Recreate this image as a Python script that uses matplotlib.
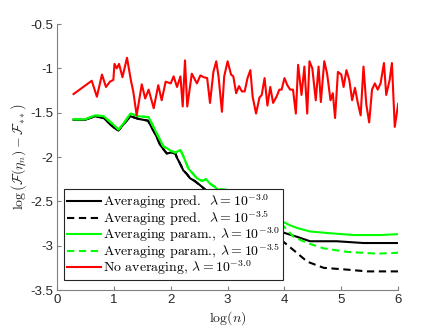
import matplotlib
matplotlib.use("Agg")
import matplotlib.pyplot as plt

plt.rcParams['mathtext.fontset'] = 'cm'
plt.rcParams['font.family'] = ['Liberation Sans', 'DejaVu Sans']

# ---- data ----
avg_pred_30_x = [0.29, 0.49, 0.67, 0.82, 1.0, 1.08, 1.17, 1.29, 1.43, 1.6, 1.75, 1.81, 1.88, 1.93, 2.0, 2.08,
                 2.11, 2.16, 2.22, 2.28, 2.34, 2.42, 2.52, 2.61, 2.8, 3.0, 3.3, 3.6, 3.97, 4.22, 4.45, 4.92, 5.39, 6.0]
avg_pred_30_y = [-1.58, -1.58, -1.54, -1.56, -1.67, -1.70, -1.63, -1.54, -1.57, -1.59, -1.77, -1.86, -1.92, -1.96, -1.95, -1.96,
                 -2.01, -2.07, -2.15, -2.19, -2.24, -2.27, -2.32, -2.37, -2.45, -2.55, -2.68, -2.78, -2.85, -2.90, -2.95, -2.95, -2.97, -2.97]

avg_pred_35_x = [0.29, 0.49, 0.67, 0.82, 1.0, 1.08, 1.17, 1.29, 1.43, 1.6, 1.75, 1.81, 1.88, 1.93, 2.0, 2.08,
                 2.11, 2.16, 2.22, 2.28, 2.34, 2.42, 2.52, 2.61, 2.8, 3.0, 3.3, 3.6, 3.97, 4.16, 4.40, 4.69, 5.10, 5.45, 6.0]
avg_pred_35_y = [-1.58, -1.58, -1.54, -1.56, -1.67, -1.70, -1.63, -1.54, -1.57, -1.59, -1.77, -1.86, -1.92, -1.96, -1.95, -1.96,
                 -2.01, -2.07, -2.15, -2.19, -2.24, -2.27, -2.32, -2.37, -2.45, -2.55, -2.70, -2.83, -2.95, -3.05, -3.18, -3.25, -3.27, -3.29, -3.29]

avg_param_30_x = [0.29, 0.49, 0.67, 0.82, 1.0, 1.08, 1.17, 1.29, 1.43, 1.61, 1.75, 1.87, 1.93, 2.0, 2.08, 2.17,
                  2.22, 2.31, 2.46, 2.55, 2.62, 2.69, 2.84, 3.0, 3.3, 3.6, 3.97, 4.10, 4.22, 4.45, 4.81, 5.22, 5.69, 6.0]
avg_param_30_y = [-1.575, -1.575, -1.53, -1.54, -1.64, -1.69, -1.62, -1.51, -1.54, -1.55, -1.73, -1.88, -1.90, -1.93, -1.95, -1.92,
                  -1.99, -2.13, -2.24, -2.27, -2.25, -2.30, -2.37, -2.45, -2.56, -2.65, -2.73, -2.77, -2.80, -2.84, -2.86, -2.88, -2.88, -2.87]

avg_param_35_x = [0.29, 0.49, 0.67, 0.82, 1.0, 1.08, 1.17, 1.29, 1.43, 1.61, 1.75, 1.87, 1.93, 2.0, 2.08, 2.17,
                  2.22, 2.31, 2.46, 2.55, 2.62, 2.69, 2.84, 3.02, 3.1, 3.3, 3.6, 3.97, 4.16, 4.40, 4.69, 5.10, 5.63, 6.0]
avg_param_35_y = [-1.575, -1.575, -1.53, -1.54, -1.64, -1.69, -1.62, -1.51, -1.54, -1.55, -1.73, -1.88, -1.90, -1.93, -1.95, -1.92,
                  -1.99, -2.13, -2.24, -2.27, -2.25, -2.30, -2.36, -2.37, -2.42, -2.50, -2.62, -2.77, -2.90, -2.97, -3.03, -3.07, -3.09, -3.08]

no_avg_x = [0.29, 0.61, 0.70, 0.79, 0.86, 0.93, 0.99, 1.01, 1.05, 1.09,
            1.15, 1.23, 1.30, 1.34, 1.40, 1.49, 1.55, 1.61, 1.70, 1.78,
            1.84, 1.91, 2.0, 2.05, 2.11, 2.17, 2.21, 2.25, 2.29, 2.37,
            2.46, 2.52, 2.58, 2.64, 2.69, 2.75, 2.80, 2.84, 2.90, 2.94,
            3.0, 3.06, 3.10, 3.15, 3.20, 3.25, 3.30, 3.35, 3.40, 3.44,
            3.50, 3.56, 3.60, 3.65, 3.70, 3.75, 3.80, 3.86, 3.91, 3.95,
            4.0, 4.05, 4.10, 4.15, 4.20, 4.24, 4.30, 4.35, 4.40, 4.44,
            4.49, 4.55, 4.60, 4.64, 4.70, 4.75, 4.81, 4.85, 4.89, 4.94,
            5.0, 5.04, 5.09, 5.14, 5.19, 5.24, 5.29, 5.34, 5.39, 5.44,
            5.49, 5.54, 5.59, 5.64, 5.69, 5.75, 5.79, 5.85, 5.89, 5.94,
            6.0]
no_avg_y = [-1.29, -1.14, -1.32, -1.07, -1.21, -1.15, -1.13, -0.95, -1.0, -0.95,
            -1.10, -0.88, -1.14, -1.26, -1.53, -1.18, -1.34, -1.24, -1.45, -1.19,
            -1.36, -1.15, -1.17, -1.09, -1.21, -1.09, -1.43, -0.91, -1.43, -1.06,
            -1.17, -1.08, -1.10, -1.11, -1.39, -1.04, -0.92, -1.09, -1.49, -1.09,
            -0.92, -1.07, -1.09, -1.28, -1.20, -1.26, -1.26, -1.11, -1.02, -1.32,
            -1.51, -1.33, -1.30, -1.11, -1.42, -1.21, -1.39, -1.32, -1.24, -1.24,
            -1.11, -1.19, -1.24, -1.24, -1.51, -0.96, -1.30, -0.98, -1.51, -0.92,
            -1.0, -1.36, -0.98, -1.38, -0.92, -1.06, -1.36, -1.28, -1.56, -1.04,
            -1.07, -1.21, -1.02, -1.13, -1.36, -1.22, -1.39, -1.53, -0.98, -1.41,
            -1.61, -1.24, -1.17, -1.24, -1.17, -0.94, -1.30, -1.13, -0.94, -1.66,
            -1.40]

labels = [r'Averaging pred.  $\lambda = 10^{-3.0}$',
          r'Averaging pred.  $\lambda = 10^{-3.5}$',
          r'Averaging param., $\lambda = 10^{-3.0}$',
          r'Averaging param., $\lambda = 10^{-3.5}$',
          r'No averaging, $\lambda = 10^{-3.0}$']

xticks = [0, 1, 2, 3, 4, 5, 6]
yticks = [-3.5, -3, -2.5, -2, -1.5, -1, -0.5]
ytick_labels = ['-3.5', '-3', '-2.5', '-2', '-1.5', '-1', '-0.5']

# ---- plot ----
fig = plt.figure(figsize=(4.39, 3.29), dpi=100)
ax = fig.add_axes([0.130, 0.1185, 0.777, 0.8085])

lw = 1.5
dash = (3.5, 2.2)
ax.plot(avg_pred_30_x, avg_pred_30_y, color='black', lw=lw, label=labels[0])
ax.plot(avg_pred_35_x, avg_pred_35_y, color='black', lw=lw, ls=(0, dash), label=labels[1])
ax.plot(avg_param_30_x, avg_param_30_y, color='#00FF00', lw=lw, label=labels[2])
ax.plot(avg_param_35_x, avg_param_35_y, color='#00FF00', lw=lw, ls=(0, dash), label=labels[3])
ax.plot(no_avg_x, no_avg_y, color='#FF0000', lw=lw, label=labels[4])

ax.set_xlim(0, 6)
ax.set_ylim(-3.5, -0.5)
ax.set_xticks(xticks)
ax.set_xticklabels([str(t) for t in xticks])
ax.set_yticks(yticks)
ax.set_yticklabels(ytick_labels)

for s in ['top', 'right']:
    ax.spines[s].set_visible(False)
for s in ['left', 'bottom']:
    ax.spines[s].set_color('#808080')
    ax.spines[s].set_linewidth(0.8)
ax.tick_params(direction='in', length=3, width=0.8, color='#808080',
               labelsize=9.5, labelcolor='#262626', pad=3)

ax.set_xlabel(r'$\log(n)$', fontsize=10, color='#262626', labelpad=2)
ax.set_ylabel(r'$\log\left(\mathcal{F}(\eta_n) - \mathcal{F}_{**}\right)$',
              fontsize=10, color='#262626', labelpad=1)

leg = ax.legend(loc='lower left', bbox_to_anchor=(0.02, 0.037), borderaxespad=0,
                prop={'family': 'cmr10', 'size': 10}, frameon=True, fancybox=False,
                framealpha=1, edgecolor='#262626', handlelength=2.4, handletextpad=0.15,
                labelspacing=-0.18, borderpad=0.25)
leg.get_frame().set_linewidth(0.8)

fig.savefig('out.png', dpi=100)
